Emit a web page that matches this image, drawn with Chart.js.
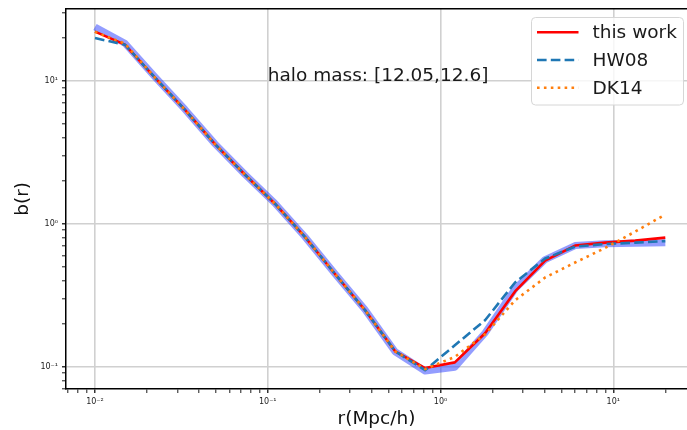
<!DOCTYPE html>
<html><head><meta charset="utf-8">
<script src="https://cdn.jsdelivr.net/npm/chart.js@4.4.1/dist/chart.umd.min.js"></script>
<style>html,body{margin:0;padding:0;background:#fff;overflow:hidden}canvas{display:block}</style>
</head><body>
<canvas id="c" width="687" height="430"></canvas>
<script>
// ---- data ----
const radius    = [0.01, 0.0149, 0.0223, 0.0332, 0.0495, 0.0739, 0.110, 0.164, 0.245, 0.366, 0.546, 0.814, 1.21, 1.81, 2.70, 4.03, 6.01, 8.96, 13.4, 20.0];
const thisWork  = [22.1, 17.9, 10.5, 6.25, 3.60, 2.20, 1.38, 0.808, 0.445, 0.248, 0.128, 0.0977, 0.107, 0.171, 0.336, 0.552, 0.703, 0.737, 0.761, 0.799];
const hw08      = [19.9, 17.9, 10.5, 6.25, 3.60, 2.20, 1.38, 0.808, 0.445, 0.248, 0.128, 0.0944, 0.141, 0.211, 0.388, 0.570, 0.691, 0.720, 0.737, 0.755];
const dk14      = [22.0, 18.2, 10.5, 6.25, 3.60, 2.20, 1.38, 0.808, 0.445, 0.248, 0.128, 0.0960, 0.117, 0.168, 0.291, 0.420, 0.535, 0.676, 0.881, 1.16];
const mockBand  = [23.8, 18.3, 10.6, 6.30, 3.62, 2.21, 1.39, 0.810, 0.447, 0.250, 0.127, 0.0930, 0.0990, 0.172, 0.350, 0.561, 0.703, 0.725, 0.730, 0.737];
const seriesNames = ['this work', 'HW08', 'DK14'];
const xMajorTicks = [0.01, 0.1, 1, 10];
const xTickLabels = ['10\u207B\u00B2', '10\u207B\u00B9', '10\u2070', '10\u00B9'];
const yMajorTicks = [0.1, 1, 10];
const yTickLabels = ['10\u207B\u00B9', '10\u2070', '10\u00B9'];
const annotationText = 'halo mass: [12.05,12.6]';
const xTitle = 'r(Mpc/h)';
const yTitle = 'b(r)';

// ---- helpers ----
const pts = ys => radius.map((r, i) => ({x: r, y: ys[i]}));
const isMajor = v => { const l = Math.log10(v); return Math.abs(l - Math.round(l)) < 1e-6; };
function logTicks(min, max) {
  const out = [];
  for (let e = Math.floor(Math.log10(min)); e <= Math.ceil(Math.log10(max)); e++) {
    for (let m = 1; m <= 9; m++) {
      const v = parseFloat((m * Math.pow(10, e)).toPrecision(6));
      if (v >= min && v <= max) out.push(v);
    }
  }
  return out;
}
function labelFor(v, majors, labels) {
  const i = majors.findIndex(m => Math.abs(m - v) / m < 1e-6);
  return i >= 0 ? labels[i] : '';
}

Chart.defaults.font.family = '"DejaVu Sans", sans-serif';

const decor = {
  id: 'decor',
  afterDatasetsDraw(chart) {
    const {ctx, chartArea: a, scales: {x, y}} = chart;
    ctx.save();
    // top spine
    ctx.strokeStyle = '#000'; ctx.lineWidth = 1.5; ctx.setLineDash([]);
    ctx.beginPath(); ctx.moveTo(a.left - 0.75, a.top); ctx.lineTo(a.right, a.top); ctx.stroke();
    // annotation
    ctx.fillStyle = '#1a1a1a';
    ctx.font = '18.5px "DejaVu Sans"';
    ctx.textAlign = 'left'; ctx.textBaseline = 'alphabetic';
    ctx.fillText(annotationText, x.getPixelForValue(0.1), y.getPixelForValue(10));
    // legend box
    const bx = 531.5, by = 17.5, bw = 152, bh = 87.5, r = 4;
    ctx.beginPath();
    ctx.moveTo(bx + r, by);
    ctx.arcTo(bx + bw, by, bx + bw, by + bh, r);
    ctx.arcTo(bx + bw, by + bh, bx, by + bh, r);
    ctx.arcTo(bx, by + bh, bx, by, r);
    ctx.arcTo(bx, by, bx + bw, by, r);
    ctx.closePath();
    ctx.fillStyle = 'rgba(255,255,255,0.8)'; ctx.fill();
    ctx.strokeStyle = '#d6d6d6'; ctx.lineWidth = 1; ctx.stroke();
    const ds = chart.data.datasets.filter(d => seriesNames.includes(d.label));
    ds.sort((p, q) => seriesNames.indexOf(p.label) - seriesNames.indexOf(q.label));
    const rows = [32.3, 60, 87.7];
    ds.forEach((d, i) => {
      ctx.strokeStyle = d.borderColor; ctx.lineWidth = d.borderWidth;
      ctx.setLineDash(d.borderDash || []);
      ctx.beginPath(); ctx.moveTo(537, rows[i]); ctx.lineTo(578.5, rows[i]); ctx.stroke();
      ctx.setLineDash([]);
      ctx.fillStyle = '#1a1a1a'; ctx.textBaseline = 'middle';
      ctx.fillText(d.label, 592.5, rows[i] + 1);
    });
    ctx.restore();
  }
};

const gridColor = c => (c.tick && isMajor(c.tick.value)) ? '#d0d0d0' : 'rgba(0,0,0,0)';
const tickW = c => (c.tick && isMajor(c.tick.value)) ? 1.2 : 0.9;

new Chart(document.getElementById('c'), {
  type: 'line',
  data: {
    datasets: [
      {label: '_band', data: pts(mockBand), borderColor: 'rgba(40,60,255,0.5)', borderWidth: 7, order: 4},
      {label: seriesNames[0], data: pts(thisWork), borderColor: '#ff0000', borderWidth: 2.6, order: 3},
      {label: seriesNames[1], data: pts(hw08), borderColor: '#1f77b4', borderWidth: 2.6, borderDash: [9.6, 4.2], order: 2},
      {label: seriesNames[2], data: pts(dk14), borderColor: '#ff7f0e', borderWidth: 2.6, borderDash: [2.6, 4.3], order: 1}
    ]
  },
  options: {
    responsive: false, animation: false, devicePixelRatio: 1,
    layout: {padding: {top: 7, right: 0, left: 0, bottom: 0}},
    elements: {point: {radius: 0}, line: {tension: 0, borderJoinStyle: 'round', fill: false}},
    plugins: {legend: {display: false}, tooltip: {enabled: false}},
    scales: {
      x: {
        type: 'logarithmic', position: 'bottom', min: 0.006795, max: 26.7,
        afterBuildTicks(s) { s.ticks = logTicks(s.min, s.max).map(v => ({value: v})); },
        afterFit(s) { s.height = 41; },
        ticks: {autoSkip: false, maxRotation: 0, minRotation: 0, padding: 4, color: '#222', font: {size: 8},
                callback: v => labelFor(v, xMajorTicks, xTickLabels)},
        grid: {color: gridColor, lineWidth: 1.6, tickColor: '#000', tickLength: 4, tickWidth: tickW, drawTicks: true},
        border: {display: true, color: '#000', width: 1.5},
        title: {display: true, text: xTitle, color: '#111', font: {size: 18.5}, padding: {top: 0, bottom: 0}}
      },
      y: {
        type: 'logarithmic', position: 'left', min: 0.0697, max: 31.9,
        afterBuildTicks(s) { s.ticks = logTicks(s.min, s.max).map(v => ({value: v})); },
        afterFit(s) { s.width = 66; },
        ticks: {autoSkip: false, padding: 4, color: '#222', font: {size: 8},
                callback: v => labelFor(v, yMajorTicks, yTickLabels)},
        grid: {color: gridColor, lineWidth: 1.6, tickColor: '#000', tickLength: 4, tickWidth: tickW, drawTicks: true},
        border: {display: true, color: '#000', width: 1.5},
        title: {display: true, text: yTitle, color: '#111', font: {size: 18.5}, padding: {top: 12.4, bottom: 0}}
      }
    }
  },
  plugins: [decor]
});
</script>
</body></html>
